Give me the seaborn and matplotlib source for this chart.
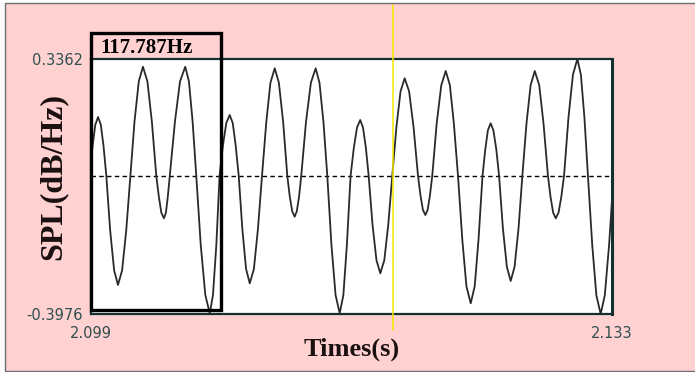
import matplotlib
matplotlib.use("Agg")
import matplotlib.pyplot as plt
import matplotlib.transforms as mtransforms
from matplotlib.patches import Rectangle
import pandas as pd
import seaborn as sns

# ---- data ----
# extrema and zero crossings of the waveform (time s, SPL)
key_t = [2.09900, 2.09946, 2.10000, 2.10076, 2.10157, 2.10239, 2.10326, 2.10376,
         2.10414, 2.10515, 2.10587, 2.10675, 2.10739, 2.10805, 2.10864, 2.10936,
         2.11016, 2.11099, 2.11181, 2.11229, 2.11272, 2.11366, 2.11442, 2.11523,
         2.11594, 2.11657, 2.11712, 2.11788, 2.11866, 2.11947, 2.12034, 2.12082,
         2.12127, 2.12215, 2.12295, 2.12378, 2.12455, 2.12508, 2.12563, 2.12639,
         2.12715, 2.12796, 2.12882, 2.12933, 2.12987, 2.13074, 2.13143, 2.13226,
         2.13300]
key_v = [0.040, 0.1693, 0.0, -0.3141, 0.0, 0.3140, 0.0, -0.1222,
         0.0, 0.3140, 0.0, -0.3956, 0.0, 0.1751, 0.0, -0.3093,
         0.0, 0.3094, 0.0, -0.1176, 0.0, 0.3094, 0.0, -0.3956,
         0.0, 0.1607, 0.0, -0.2805, 0.0, 0.2807, 0.0, -0.1127,
         0.0, 0.3017, 0.0, -0.3668, 0.0, 0.1512, 0.0, -0.3026,
         0.0, 0.3017, 0.0, -0.1222, 0.0, 0.3362, 0.0, -0.3976,
         -0.0695]
# points on the flanks of each swing (two per rise/fall)
flank_t = [2.09910, 2.09928, 2.09964, 2.09982, 2.10025, 2.10051, 2.10103, 2.10130,
           2.10184, 2.10212, 2.10268, 2.10297, 2.10343, 2.10359, 2.10389, 2.10401,
           2.10448, 2.10481, 2.10539, 2.10563, 2.10616, 2.10646, 2.10696, 2.10718,
           2.10761, 2.10783, 2.10825, 2.10844, 2.10888, 2.10912, 2.10963, 2.10989,
           2.11044, 2.11071, 2.11126, 2.11154, 2.11197, 2.11213, 2.11243, 2.11258,
           2.11303, 2.11335, 2.11391, 2.11417, 2.11469, 2.11496, 2.11547, 2.11570,
           2.11615, 2.11636, 2.11675, 2.11694, 2.11737, 2.11763, 2.11814, 2.11840,
           2.11893, 2.11920, 2.11976, 2.12005, 2.12050, 2.12066, 2.12097, 2.12112,
           2.12156, 2.12186, 2.12242, 2.12268, 2.12323, 2.12350, 2.12404, 2.12429,
           2.12473, 2.12490, 2.12526, 2.12545, 2.12588, 2.12614, 2.12664, 2.12690,
           2.12742, 2.12769, 2.12825, 2.12853, 2.12899, 2.12916, 2.12951, 2.12969,
           2.13016, 2.13045, 2.13097, 2.13120, 2.13171, 2.13198, 2.13253, 2.13281]
flank_v = [0.085, 0.147, 0.147, 0.085, -0.157, -0.272, -0.272, -0.157,
           0.157, 0.272, 0.272, 0.157, -0.061, -0.106, -0.106, -0.061,
           0.157, 0.272, 0.272, 0.157, -0.198, -0.343, -0.343, -0.198,
           0.088, 0.152, 0.152, 0.088, -0.155, -0.268, -0.268, -0.155,
           0.155, 0.268, 0.268, 0.155, -0.059, -0.102, -0.102, -0.059,
           0.155, 0.268, 0.268, 0.155, -0.198, -0.343, -0.343, -0.198,
           0.080, 0.139, 0.139, 0.080, -0.140, -0.243, -0.243, -0.140,
           0.140, 0.243, 0.243, 0.140, -0.056, -0.098, -0.098, -0.056,
           0.151, 0.261, 0.261, 0.151, -0.183, -0.318, -0.318, -0.183,
           0.076, 0.131, 0.131, 0.076, -0.151, -0.262, -0.262, -0.151,
           0.151, 0.261, 0.261, 0.151, -0.061, -0.106, -0.106, -0.061,
           0.168, 0.291, 0.291, 0.168, -0.199, -0.344, -0.344, -0.199]

x_ticks = [2.099, 2.133]
x_tick_labels = ["2.099", "2.133"]
y_ticks = [-0.3976, 0.0, 0.3362]
y_tick_labels = ["-0.3976", "", "0.3362"]
cursor_time = 2.11871
period_start = 2.099
period_freq = 117.787
freq_label = "117.787Hz"
x_label = "Times(s)"
y_label = "SPL(dB/Hz)"

df = pd.DataFrame({"t": key_t + flank_t, "v": key_v + flank_v}).sort_values("t")

sns.set_theme(style="white")
plt.rcParams["font.family"] = ["DejaVu Sans"]

W, H = 695, 372
fig = plt.figure(figsize=(W / 100, H / 100), dpi=100, facecolor="white")

# pink panel with thin border
fig.patches.append(Rectangle((4.5 / W, 1.5 / H), 1.0, 367.5 / H, transform=fig.transFigure,
                             facecolor="#FFD1D1", edgecolor="#6e6e6e", linewidth=1.0,
                             zorder=-10))

L, R, T, B = 91, 612, 59, 314
ax = fig.add_axes([L / W, (H - B) / H, (R - L) / W, (B - T) / H])
ax.set_zorder(5)
ax.set_facecolor("white")

sns.lineplot(data=df, x="t", y="v", ax=ax, color="#2a2a2a", linewidth=1.3,
             estimator=None, sort=False, zorder=3)
ax.axhline(0, color="black", linestyle=(0, (3.2, 2.4)), linewidth=1.0, zorder=2)

ax.set_xlim(x_ticks[0], x_ticks[-1])
ax.set_ylim(y_ticks[0], y_ticks[-1])
ax.set_xticks(x_ticks)
ax.set_xticklabels(x_tick_labels)
ax.set_yticks(y_ticks)
ax.set_yticklabels(y_tick_labels)

spine_col = "#143030"
for side, sp in ax.spines.items():
    sp.set_color(spine_col)
    sp.set_linewidth(1.6)
ax.spines["right"].set_linewidth(2.2)

ax.tick_params(axis="both", which="both", direction="out", color=spine_col,
               width=1.4, labelsize=10.5, labelcolor="#2F4F4F")
ax.tick_params(axis="y", length=4, pad=2)
ax.tick_params(axis="x", length=5, pad=4)

ax.set_xlabel(x_label, fontsize=19, fontweight="bold", family="Liberation Serif",
              color="#1a1010", va="center")
ax.xaxis.set_label_coords(0.5, -(349 - B) / (B - T))
ax.set_ylabel(y_label, fontsize=23, fontweight="bold", family="Liberation Serif",
              color="#1a1010", va="center")
ax.yaxis.set_label_coords((53 - L) / (R - L), (B - 176) / (B - T))

# cursor line
ax.axvline(cursor_time, ymin=-(330 - B) / (B - T), ymax=(B - 5) / (B - T),
           color="#F2E600", linewidth=1.1, clip_on=False, zorder=4)

# one-period box
trans = mtransforms.blended_transform_factory(ax.transData, ax.transAxes)
box_bottom = (B - 310) / (B - T)
box_top = (B - 33) / (B - T)
ax.add_patch(Rectangle((period_start, box_bottom), 1.0 / period_freq, box_top - box_bottom,
                       transform=trans, fill=False, edgecolor="black", linewidth=2.4,
                       clip_on=False, zorder=5))
ax.text(period_start + 0.0006, (B - 53) / (B - T), freq_label, transform=trans,
        fontsize=15, fontweight="bold", family="Liberation Serif", color="black",
        ha="left", va="baseline", zorder=6)

fig.savefig("out.png", dpi=100, facecolor=fig.get_facecolor())
